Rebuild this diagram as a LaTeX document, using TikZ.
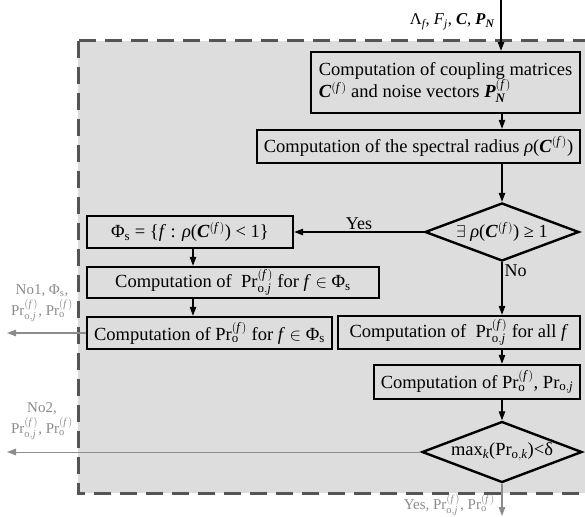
\documentclass[tikz,border=0pt]{standalone}
\usepackage{amsmath}
\usepackage{fontspec}
\setmainfont{Liberation Serif}
\usetikzlibrary{arrows.meta,shapes.geometric}
\definecolor{bg}{RGB}{221,221,221}
\definecolor{lbl}{RGB}{140,140,140}
\definecolor{dashc}{RGB}{85,85,85}
\newcommand{\Cf}{\textbf{\textit{C}}$^{(\textit{f}\,)}$}
\newcommand{\PNf}{\textbf{\textit{P}}$^{(\textit{f}\,)}_{\textbf{\textit{N}}}$}
\newcommand{\PrOJ}{Pr$^{(\textit{f}\,)}_{\text{o},\textit{j}}$}
\newcommand{\PrO}{Pr$^{(\textit{f}\,)}_{\text{o}}$}
\newcommand{\Phis}{Φ$_{\text{s}}$}
\begin{document}
\begin{tikzpicture}[x=1pt,y=-1pt,
  box/.style={draw,line width=2.4pt,fill=bg,inner sep=0pt,font=\fontsize{18.5}{22.5}\selectfont},
  dia/.style={diamond,draw,line width=2.4pt,fill=bg,inner sep=0pt},
  diatext/.style={inner sep=0pt,font=\fontsize{18.5}{22.5}\selectfont},
  arr/.style={-{Triangle[length=9pt,width=6.5pt]},line width=1.2pt},
  garr/.style={arr,draw=lbl,fill=lbl},
  glabel/.style={text=lbl,inner sep=0pt,font=\fontsize{15}{21}\selectfont},
  inlabel/.style={inner sep=0pt,font=\fontsize{16.5}{19}\selectfont},
  yesno/.style={inner sep=2pt,font=\fontsize{18}{20}\selectfont}]
\clip (0,0) rectangle (585,516);
\fill[white] (0,0) rectangle (585,516);
\draw[fill=bg,draw=dashc,line width=3pt,dash pattern=on 17pt off 9pt] (78,41) rectangle (610,493);

\coordinate (in) at (501,0);
\coordinate (out) at (502,516);
\coordinate (no1) at (7,333);
\coordinate (no2) at (7,452);
\coordinate (lc) at (193,0);
\coordinate (rc) at (502,0);

\node[box,minimum width=269pt,minimum height=61pt,align=left] (b1) at (445.5,82.5)
  {Computation of coupling matrices\\ \Cf{} and noise vectors \PNf};
\node[box,minimum width=323pt,minimum height=33pt] (b2) at (418.5,146.5)
  {Computation of the spectral radius \textit{ρ}(\Cf)};
\node[dia,minimum width=154pt,minimum height=58pt] (d1) at (502,232) {};
\node[diatext] (d1t) at (d1) {$\exists$ \textit{ρ}(\Cf) ≥ 1};
\node[box,minimum width=206pt,minimum height=32pt] (phi) at (190,232)
  {\Phis{} = \{\textit{f} : \textit{ρ}(\Cf) < 1\}};
\node[box,minimum width=292pt,minimum height=31pt] (poj1) at (233,282.5)
  {Computation of \ \PrOJ{} for \textit{f} $\in$ \Phis};
\node[box,minimum width=245pt,minimum height=32pt] (po1) at (209.5,333)
  {Computation of \PrO{} for \textit{f} $\in$ \Phis};
\node[box,minimum width=242pt,minimum height=33pt] (pojall) at (459,332.5)
  {Computation of \ \PrOJ{} for all \textit{f}};
\node[box,minimum width=206pt,minimum height=34pt] (po) at (477,382)
  {Computation of \PrO, Pr$_{\text{o},\textit{j}}$};
\node[dia,minimum width=160pt,minimum height=61pt] (d2) at (502,452) {};
\node[diatext] (d2t) at (d2) {max$_{\textit{k}}$(Pr$_{\text{o},\textit{k}}$)<δ};

\node[inlabel,anchor=east] (inl) at (495,22)
  {Λ$_{\textit{f}}$, \textit{F}$_{\textit{j}}$, \textbf{\textit{C}}, \textbf{\textit{P}}$_{\textbf{\textit{N}}}$};
\node[glabel,align=center] (l1) at (42,303) {No1, \Phis,\\ \PrOJ, \PrO};
\node[glabel,align=center] (l2) at (42,421) {No2,\\ \PrOJ, \PrO};
\node[glabel,anchor=east] (l3) at (495,505) {Yes, \PrOJ, \PrO};

\draw[arr] (in) -- (in |- b1.north);
\draw[arr] (b1.south -| rc) -- (b2.north -| rc);
\draw[arr] (b2.south -| rc) -- (d1.north);
\draw[arr] (d1.west) -- (phi.east) node[yesno,midway,above] {Yes};
\draw[arr] (d1.south) -- (d1.south |- pojall.north) node[yesno,pos=0.17,right] {No};
\draw[arr] (phi.south -| lc) -- (poj1.north -| lc);
\draw[arr] (poj1.south -| lc) -- (po1.north -| lc);
\draw[garr] (po1.west) -- (no1);
\draw[arr] (pojall.south -| rc) -- (po.north -| rc);
\draw[arr] (po.south -| rc) -- (d2.north);
\draw[garr,line width=0.9pt] (d2.west) -- (no2);
\draw[garr] (d2.south) -- (out);
\end{tikzpicture}
\end{document}
